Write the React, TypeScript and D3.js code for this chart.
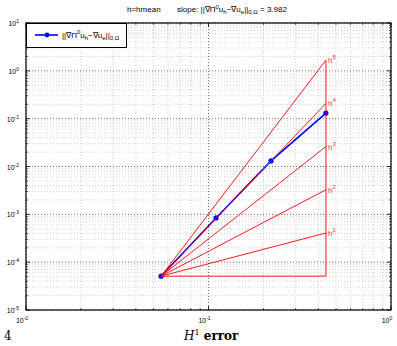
import React from "react";
import * as d3 from "d3";

const hValues = [0.055, 0.11, 0.22, 0.44];
const errValues = [5.1e-5, 8.4e-4, 0.0131, 0.131];
const slopeOrders = [1, 2, 3, 4, 5];
const xDecades = [-2, -1, 0];
const yDecades = [-5, -4, -3, -2, -1, 0, 1];
const titleSlope = "3.982";

const W = 397, H = 346;
const L = 26, R = 391, T = 23, B = 310;

export default function App() {
  const x = d3.scaleLog().domain([1e-2, 1]).range([L, R]);
  const y = d3.scaleLog().domain([1e-5, 10]).range([B, T]);
  const font = "'Liberation Sans', Arial, sans-serif";

  const xMinor: number[] = [];
  for (let d = -2; d < 0; d++) for (let m = 2; m <= 9; m++) xMinor.push(m * Math.pow(10, d));
  const yMinor: number[] = [];
  for (let d = -5; d < 1; d++) for (let m = 2; m <= 9; m++) yMinor.push(m * Math.pow(10, d));

  const line = d3.line<number>().x((_, i) => x(hValues[i])).y((v) => y(v));
  const h0 = hValues[0], e0 = errValues[0];
  const hN = hValues[hValues.length - 1];

  const normText = (
    <>
      ||∇Π<tspan dy={-3.5} fontSize={6}>0</tspan>
      <tspan dy={3.5}>u</tspan>
      <tspan dy={2} fontSize={6}>h</tspan>
      <tspan dy={-2}>−∇u</tspan>
      <tspan dy={2} fontSize={6}>e</tspan>
      <tspan dy={-2}>||</tspan>
      <tspan dy={2} fontSize={6}>0,Ω</tspan>
    </>
  );

  return (
    <svg width={W} height={H} style={{ position: "absolute", left: 0, top: 0 }} fontFamily={font}>
      <rect x={0} y={0} width={W} height={H} fill="#fff" />
      <rect x={L} y={T} width={R - L} height={B - T} fill="#fff" />
      {xMinor.map((v, i) => (
        <line key={"xm" + i} x1={x(v)} x2={x(v)} y1={T} y2={B} stroke="#b0b0b0" strokeWidth={0.6} strokeDasharray="1 2" />
      ))}
      {yMinor.map((v, i) => (
        <line key={"ym" + i} y1={y(v)} y2={y(v)} x1={L} x2={R} stroke="#b0b0b0" strokeWidth={0.6} strokeDasharray="1 2" />
      ))}
      {xDecades.map((d) => (
        <line key={"xM" + d} x1={x(Math.pow(10, d))} x2={x(Math.pow(10, d))} y1={T} y2={B} stroke="#333" strokeWidth={0.7} strokeDasharray="1 2" />
      ))}
      {yDecades.map((d) => (
        <line key={"yM" + d} y1={y(Math.pow(10, d))} y2={y(Math.pow(10, d))} x1={L} x2={R} stroke="#333" strokeWidth={0.7} strokeDasharray="1 2" />
      ))}
      {xMinor.map((v, i) => (
        <g key={"xt" + i} stroke="#000" strokeWidth={0.6}>
          <line x1={x(v)} x2={x(v)} y1={B} y2={B - 2} />
          <line x1={x(v)} x2={x(v)} y1={T} y2={T + 2} />
        </g>
      ))}
      {yMinor.map((v, i) => (
        <g key={"yt" + i} stroke="#000" strokeWidth={0.6}>
          <line y1={y(v)} y2={y(v)} x1={L} x2={L + 2} />
          <line y1={y(v)} y2={y(v)} x1={R} x2={R - 2} />
        </g>
      ))}
      {xDecades.map((d) => (
        <g key={"xT" + d} stroke="#000" strokeWidth={0.8}>
          <line x1={x(Math.pow(10, d))} x2={x(Math.pow(10, d))} y1={B} y2={B - 4} />
          <line x1={x(Math.pow(10, d))} x2={x(Math.pow(10, d))} y1={T} y2={T + 4} />
        </g>
      ))}
      {yDecades.map((d) => (
        <g key={"yT" + d} stroke="#000" strokeWidth={0.8}>
          <line y1={y(Math.pow(10, d))} y2={y(Math.pow(10, d))} x1={L} x2={L + 4} />
          <line y1={y(Math.pow(10, d))} y2={y(Math.pow(10, d))} x1={R} x2={R - 4} />
        </g>
      ))}
      <path d={line(errValues) || ""} fill="none" stroke="#0000ff" strokeWidth={1.6} />
      {hValues.map((h, i) => (
        <circle key={"p" + i} cx={x(h)} cy={y(errValues[i])} r={2.6} fill="#0000ff" />
      ))}
      <g stroke="#ff0000" strokeWidth={0.9} fill="none">
        {slopeOrders.map((k) => (
          <line key={"s" + k} x1={x(h0)} y1={y(e0)} x2={x(hN)} y2={y(e0 * Math.pow(hN / h0, k))} />
        ))}
        <line x1={x(h0)} y1={y(e0)} x2={x(hN)} y2={y(e0)} />
        <line x1={x(hN)} y1={y(e0)} x2={x(hN)} y2={y(e0 * Math.pow(hN / h0, 5))} />
      </g>
      {slopeOrders.map((k) => (
        <text key={"sl" + k} x={x(hN) + 2} y={y(e0 * Math.pow(hN / h0, k)) + 3} fontSize={8} fill="#ff3030">
          h<tspan dy={-4} fontSize={6}>{k}</tspan>
        </text>
      ))}
      <rect x={L} y={T} width={R - L} height={B - T} fill="none" stroke="#000" strokeWidth={1.2} />
      {xDecades.map((d) => (
        <text key={"xl" + d} x={x(Math.pow(10, d)) - 4} y={323} fontSize={7} textAnchor="middle">
          10<tspan dy={-3} fontSize={5}>{d}</tspan>
        </text>
      ))}
      {yDecades.map((d) => (
        <text key={"yl" + d} x={19} y={y(Math.pow(10, d)) + 3} fontSize={7} textAnchor="end">
          10
          <tspan dy={-3} fontSize={5} textAnchor="start">{d}</tspan>
        </text>
      ))}
      <rect x={L + 0.5} y={T + 0.5} width={100} height={24} fill="#fff" stroke="#000" strokeWidth={1} />
      <line x1={35} x2={58} y1={35} y2={35} stroke="#0000ff" strokeWidth={1.6} />
      <circle cx={47} cy={35} r={2.4} fill="#0000ff" />
      <text x={62} y={37.5} fontSize={8}>{normText}</text>
      <text x={127} y={12} fontSize={8}>h=hmean</text>
      <text x={177} y={12} fontSize={8}>
        slope: {normText}
        <tspan dy={-2}>{" = " + titleSlope}</tspan>
      </text>
      <text x={4} y={340} fontSize={12} fontFamily="'DejaVu Serif', 'Liberation Serif', serif">4</text>
      <text x={184} y={340} fontSize={12} fontFamily="'DejaVu Serif', 'Liberation Serif', serif">
        <tspan fontStyle="italic">H</tspan>
        <tspan dy={-5} fontSize={8}>1</tspan>
        <tspan dy={5} fontWeight="bold">{" error"}</tspan>
      </text>
    </svg>
  );
}
